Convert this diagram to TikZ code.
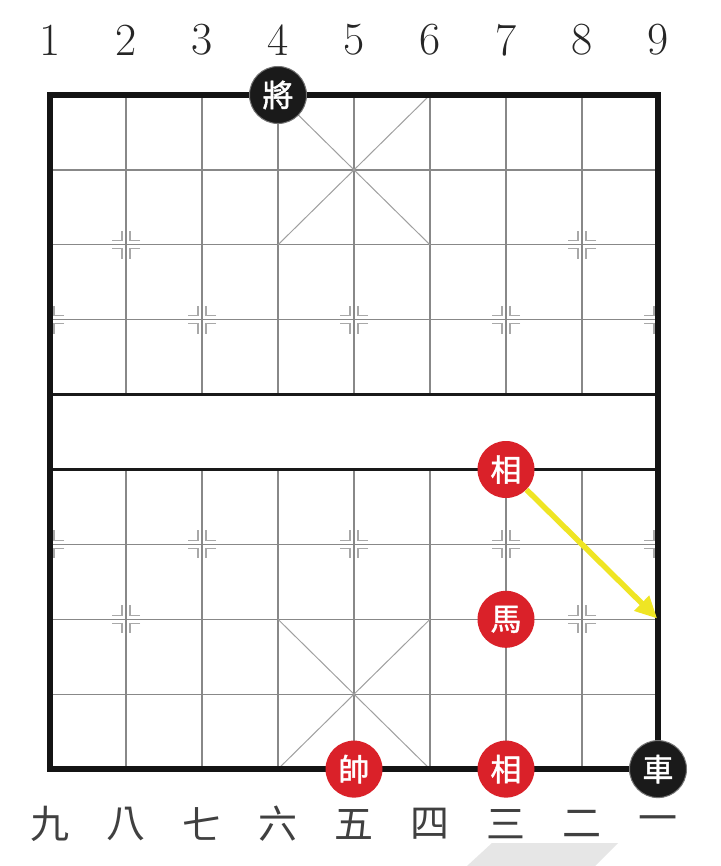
\documentclass[tikz,border=0pt]{standalone}
\usepackage{fontspec}
\newfontfamily\cjkpiece[FakeBold=1.5]{Noto Sans CJK TC}
\newfontfamily\cjknum{Noto Sans CJK TC}
\usetikzlibrary{arrows.meta}
\definecolor{gridgray}{HTML}{888888}
\definecolor{markgray}{HTML}{A8A8A8}
\definecolor{piecered}{HTML}{DA2129}
\definecolor{pieceblack}{HTML}{1A1A1A}
\definecolor{arrowyellow}{HTML}{EFE524}
\definecolor{wmgray}{HTML}{E6E6E6}
\newcommand\mkq[3]{\draw[markline, shift={(#1)}] (#2*14,#3*4) -- (#2*4,#3*4) -- (#2*4,#3*14);}
\newcommand\mkfull[1]{\mkq{#1}{1}{1}\mkq{#1}{-1}{1}\mkq{#1}{1}{-1}\mkq{#1}{-1}{-1}}
\begin{document}
\begin{tikzpicture}[x=1pt,y=-1pt,
  gridline/.style={draw=gridgray,line width=1.4pt},
  diagline/.style={draw=gridgray!80,line width=1pt},
  riverline/.style={draw=black!90,line width=3.5pt},
  borderline/.style={draw=black!92,line width=6pt},
  markline/.style={draw=markgray,line width=1.1pt},
  piece/.style={circle,minimum size=57pt,inner sep=0pt,text=white,font=\cjkpiece\fontsize{31}{31}\selectfont},
  redpiece/.style={piece,fill=piecered},
  blackpiece/.style={piece,fill=pieceblack,draw=black!55,line width=1pt},
  topnum/.style={font=\fontsize{46}{46}\selectfont,text=black!85,inner sep=0pt},
  botnum/.style={font=\cjknum\fontsize{39}{39}\selectfont,text=black!75,inner sep=0pt},
  yarrow/.style={draw=arrowyellow,line width=5.5pt,-{Triangle[length=22pt,width=20pt]},shorten >=1pt}
]
\useasboundingbox (0,0) rectangle (720,866);
\fill[white] (0,0) rectangle (720,866);
\foreach \i in {1,...,9}{\foreach \j in {0,...,9}{
  \coordinate (p\i-\j) at ({50+76*(\i-1)},{95+74.9*\j});}}
% grid
\foreach \j in {1,2,3,6,7,8} \draw[gridline] (p1-\j) -- (p9-\j);
\foreach \i in {2,...,8} {\draw[gridline] (p\i-0) -- (p\i-4); \draw[gridline] (p\i-5) -- (p\i-9);}
% palaces
\draw[diagline] (p4-0) -- (p6-2); \draw[diagline] (p6-0) -- (p4-2);
\draw[diagline] (p4-7) -- (p6-9); \draw[diagline] (p6-7) -- (p4-9);
% markers
\mkfull{p2-2}\mkfull{p8-2}\mkfull{p3-3}\mkfull{p5-3}\mkfull{p7-3}
\mkfull{p3-6}\mkfull{p5-6}\mkfull{p7-6}\mkfull{p2-7}\mkfull{p8-7}
\mkq{p1-3}{1}{1}\mkq{p1-3}{1}{-1}\mkq{p1-6}{1}{1}\mkq{p1-6}{1}{-1}
\mkq{p9-3}{-1}{1}\mkq{p9-3}{-1}{-1}\mkq{p9-6}{-1}{1}\mkq{p9-6}{-1}{-1}
% river and border
\draw[riverline] (p1-4) -- (p9-4);
\draw[riverline] (p1-5) -- (p9-5);
\draw[borderline] (p1-0) rectangle (p9-9);
% labels
\foreach \i in {1,...,9} \node[topnum] (t\i) at ({50+76*(\i-1)},40) {\i};
\foreach \c [count=\i] in {九,八,七,六,五,四,三,二,一}
  \node[botnum] (b\i) at ({50+76*(\i-1)},824) {\c};
% watermark
\fill[wmgray] (467,866) -- (492,843) -- (618,843) -- (595,866) -- cycle;
% pieces
\node[blackpiece] (jiang) at (p4-0) {將};
\node[blackpiece] (ju) at (p9-9) {車};
\node[redpiece] (shuai) at (p5-9) {帥};
\node[redpiece] (xiangB) at (p7-9) {相};
\node[redpiece] (ma) at (p7-7) {馬};
\node[redpiece] (xiangA) at (p7-5) {相};
% move arrow
\coordinate (tgt) at (p9-7);
\draw[yarrow] (xiangA) -- (tgt);
\end{tikzpicture}
\end{document}
